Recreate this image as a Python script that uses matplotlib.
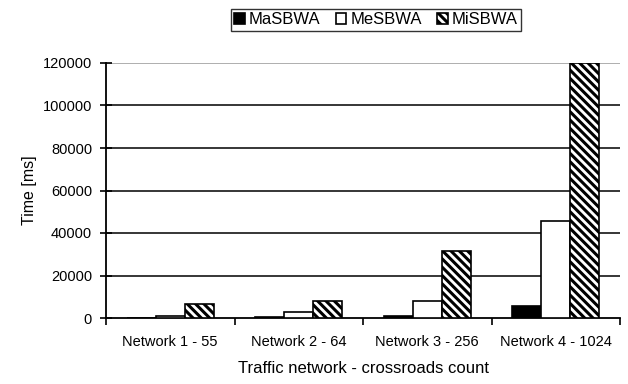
import numpy as np
import matplotlib
matplotlib.use('Agg')
import matplotlib.pyplot as plt

plt.rcParams['font.family'] = ['Liberation Sans', 'DejaVu Sans']
plt.rcParams['hatch.linewidth'] = 2.2
plt.rcParams['hatch.color'] = 'black'

networks = ['Network 1 - 55', 'Network 2 - 64', 'Network 3 - 256', 'Network 4 - 1024']
series_names = ['MaSBWA', 'MeSBWA', 'MiSBWA']
masbwa = [200, 300, 1000, 5600]
mesbwa = [1000, 2700, 8100, 45800]
misbwa = [6600, 8100, 31500, 119800]
yticks = [0, 20000, 40000, 60000, 80000, 100000, 120000]

fig = plt.figure(figsize=(6.28, 3.84), dpi=100)
ax = fig.add_axes([106 / 628, 1 - 318 / 384, 514 / 628, 255 / 384])

x = np.arange(len(networks))
w = 0.226
styles = [dict(color='black', edgecolor='black'),
          dict(color='white', edgecolor='black'),
          dict(color='white', edgecolor='black', hatch='\\\\\\\\')]

for i, (vals, st) in enumerate(zip([masbwa, mesbwa, misbwa], styles)):
    ax.bar(x + (i - 1) * w, vals, w, linewidth=1.2, label=series_names[i], zorder=3, **st)

# gridlines
for t in yticks[1:-1]:
    ax.axhline(t, color='black', lw=1.1, zorder=1)
ax.axhline(120000, color='#999999', lw=1.1, zorder=1)

ax.set_xlim(-0.5, 3.5)
ax.set_ylim(0, 120000)
ax.set_yticks(yticks)
ax.set_yticklabels([str(t) for t in yticks], fontsize=10.5)
ax.set_xticks(np.arange(-0.5, 4, 1))
ax.set_xticklabels([])
ax.set_xticks(x, minor=True)
ax.set_xticklabels(networks, minor=True, fontsize=10.5)
ax.tick_params(axis='x', which='minor', length=0, pad=12)
ax.tick_params(axis='x', which='major', direction='out', length=5, width=1.2)
ax.tick_params(axis='y', direction='inout', length=8, width=1.2, pad=6)

for s in ['top', 'right']:
    ax.spines[s].set_visible(False)
for s in ['left', 'bottom']:
    ax.spines[s].set_linewidth(1.3)

ax.set_ylabel('Time [ms]', fontsize=11.5)
ax.yaxis.set_label_coords(-(106 - 37) / 514, 0.5)
ax.set_xlabel('Traffic network - crossroads count', fontsize=12)
ax.xaxis.set_label_coords(0.5, -(361 - 318) / 255)

leg = fig.legend(loc='center', bbox_to_anchor=(376 / 628, 1 - 20 / 384), ncol=3,
                 fontsize=12, frameon=True, fancybox=False, edgecolor='black',
                 handlelength=0.65, handleheight=0.65, handletextpad=0.25,
                 columnspacing=0.9, borderpad=0.2, borderaxespad=0)
leg.get_frame().set_linewidth(1.0)

fig.savefig('out.png', dpi=100)
